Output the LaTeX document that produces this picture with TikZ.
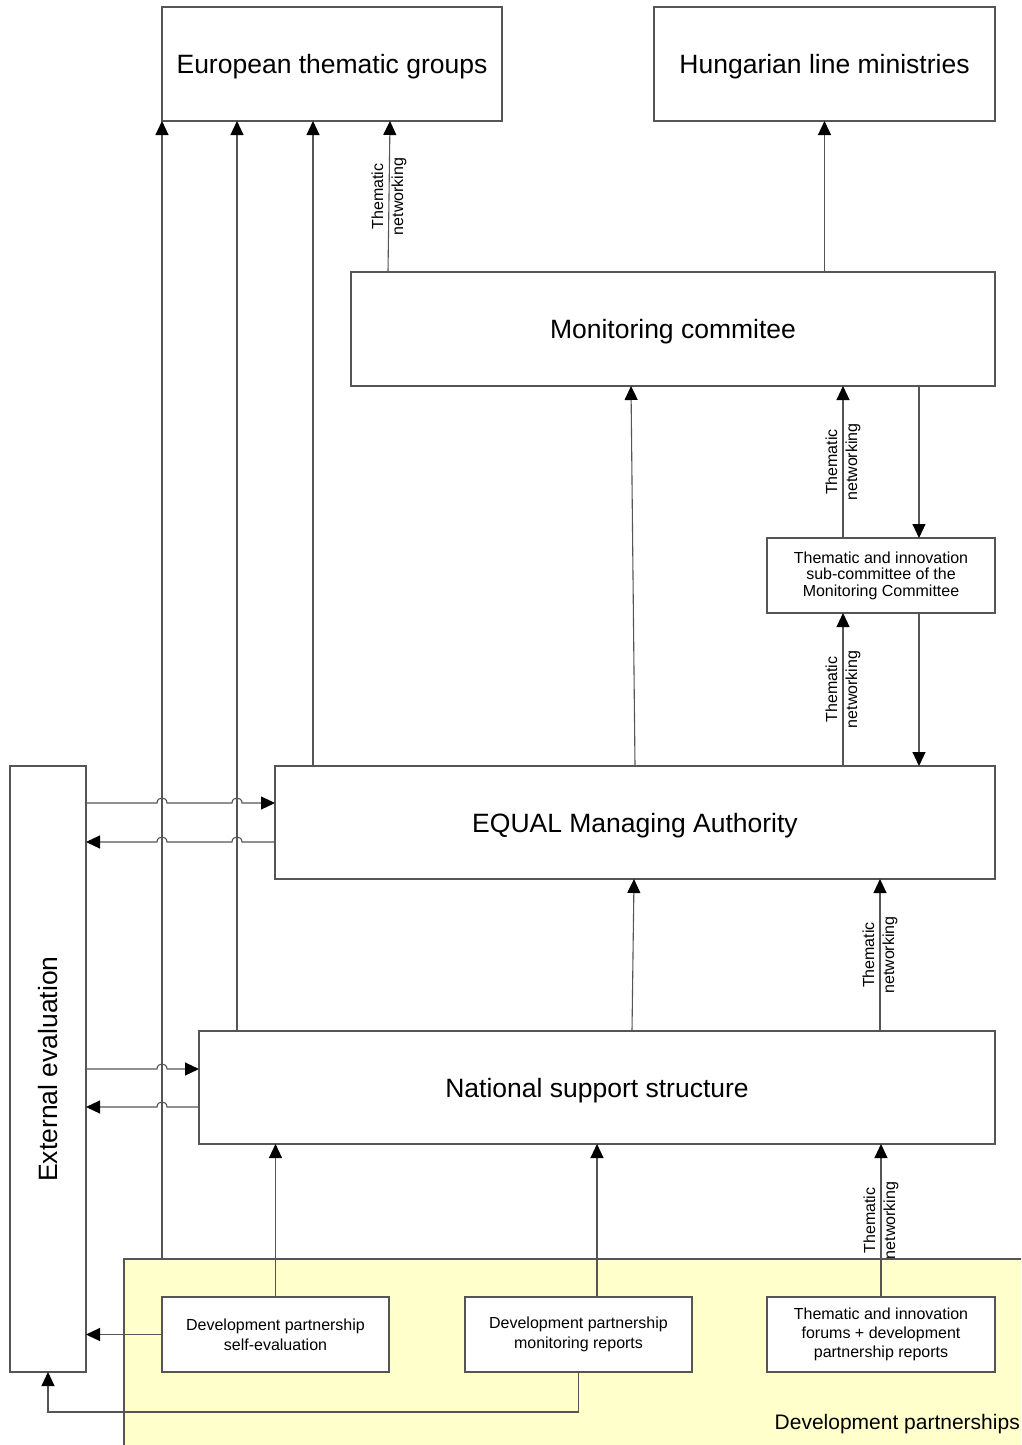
\documentclass[tikz,border=0pt]{standalone}
\usepackage{fontspec}
\setmainfont{Liberation Sans}
\usetikzlibrary{arrows.meta,calc}
\definecolor{dpyellow}{RGB}{255,255,204}
\definecolor{linegray}{RGB}{85,85,85}
\tikzset{
  box/.style={draw=linegray, line width=1.1pt, fill=white, inner sep=0pt, outer sep=0pt, align=center},
  bigbox/.style={box, font=\fontsize{26.5}{32}\selectfont, text depth=0pt},
  smallbox/.style={box, font=\fontsize{16}{20}\selectfont},
  ln/.style={draw=linegray, line width=1.1pt},
  arr/.style={ln, -{Triangle[length=14pt,width=13pt,color=black]}},
  tn/.style={rotate=90, align=center, font=\fontsize{16}{20}\selectfont, inner sep=0pt},
}

\begin{document}
\begin{tikzpicture}[x=1pt,y=-1pt]
\clip (0,0) rectangle (1021,1445);
\fill[white] (0,0) rectangle (1021,1445);

\node[box, fill=dpyellow, minimum width=916pt, minimum height=201pt] (dpz) at (582,1359.5) {};
\node[inner sep=0pt, anchor=east, font=\fontsize{21}{24}\selectfont] (dplbl) at (1020,1424) {Development partnerships};

\node[bigbox, minimum width=340pt, minimum height=114pt] (etg) at (332,64) {European thematic groups};
\node[bigbox, minimum width=341pt, minimum height=114pt] (hlm) at (824.5,64) {Hungarian line ministries};
\node[bigbox, minimum width=644pt, minimum height=114pt] (mc) at (673,329) {Monitoring commitee};
\node[smallbox, minimum width=228pt, minimum height=75pt, font=\fontsize{16}{16.5}\selectfont] (sub) at (881,575.5)
  {Thematic and innovation\\sub-committee of the\\Monitoring Committee};
\node[bigbox, minimum width=720pt, minimum height=113pt] (ema) at (635,822.5) {EQUAL Managing Authority};
\node[bigbox, minimum width=796pt, minimum height=113pt] (nss) at (597,1087.5) {National support structure};
\node[box, minimum width=76pt, minimum height=606pt] (ee) at (48,1069)
  {\rotatebox{90}{\fontsize{26.5}{32}\selectfont External evaluation}};
\node[smallbox, minimum width=227pt, minimum height=75pt] (dpse) at (275.5,1334.5) {Development partnership\\self-evaluation};
\node[smallbox, minimum width=227pt, minimum height=75pt] (dpmr) at (578.5,1334.5) {Development partnership\\monitoring reports};
\node[smallbox, minimum width=228pt, minimum height=75pt, font=\fontsize{16}{19}\selectfont] (tif) at (881,1334.5)
  {Thematic and innovation\\forums + development\\partnership reports};

\coordinate (xa) at (162,0);
\coordinate (xb) at (237,0);
\coordinate (xc) at (313,0);
\coordinate (xd) at (388,0);
\coordinate (xe) at (843,0);
\coordinate (xf) at (919,0);
\coordinate (xg) at (632,0);
\coordinate (xh) at (880,0);
\coordinate (ybot) at (0,1412);

\draw[arr] (dpz.north -| xa) -- (etg.south -| xa);
\draw[arr] (nss.north -| xb) -- (etg.south -| xb);
\draw[arr] (ema.north -| xc) -- (etg.south -| xc);
\draw[arr] (mc.north -| xd) -- node[tn] {Thematic\\networking} ($(etg.south -| xd)+(2,0)$);
\draw[arr] (mc.north -| hlm.south) -- (hlm.south);

\draw[arr] (ema.north) -- ($(mc.south -| ema.north)+(-4,0)$);
\draw[arr] (sub.north -| xe) -- node[tn] {Thematic\\networking} (mc.south -| xe);
\draw[arr] (mc.south -| xf) -- (sub.north -| xf);
\draw[arr] (ema.north -| xe) -- node[tn] {Thematic\\networking} (sub.south -| xe);
\draw[arr] (sub.south -| xf) -- (ema.north -| xf);

\draw[arr] (nss.north -| xg) -- ($(ema.south -| xg)+(2,0)$);
\draw[arr] (nss.north -| xh) -- node[tn] {Thematic\\networking} (ema.south -| xh);

\draw[arr] (dpse.north) -- (nss.south -| dpse.north);
\draw[arr] (dpmr.north -| nss.south) -- (nss.south);
\draw[arr] (tif.north) -- node[tn] {Thematic\\networking} (nss.south -| tif.north);

\draw[arr] (ee.east |- 0,803) -- (157,803) .. controls (157,796.3) and (167,796.3) .. (167,803)
  -- (232,803) .. controls (232,796.3) and (242,796.3) .. (242,803) -- (ema.west |- 0,803);
\draw[arr] (ema.west |- 0,842) -- (242,842) .. controls (242,835.3) and (232,835.3) .. (232,842)
  -- (167,842) .. controls (167,835.3) and (157,835.3) .. (157,842) -- (ee.east |- 0,842);
\draw[arr] (ee.east |- 0,1069) -- (157,1069) .. controls (157,1062.3) and (167,1062.3) .. (167,1069) -- (nss.west |- 0,1069);
\draw[arr] (nss.west |- 0,1107) -- (167,1107) .. controls (167,1100.3) and (157,1100.3) .. (157,1107) -- (ee.east |- 0,1107);

\draw[arr] (dpse.west) -- (ee.east |- dpse.west);
\draw[arr] (dpmr.south) -- (dpmr.south |- ybot) -| (ee.south);
\end{tikzpicture}
\end{document}
